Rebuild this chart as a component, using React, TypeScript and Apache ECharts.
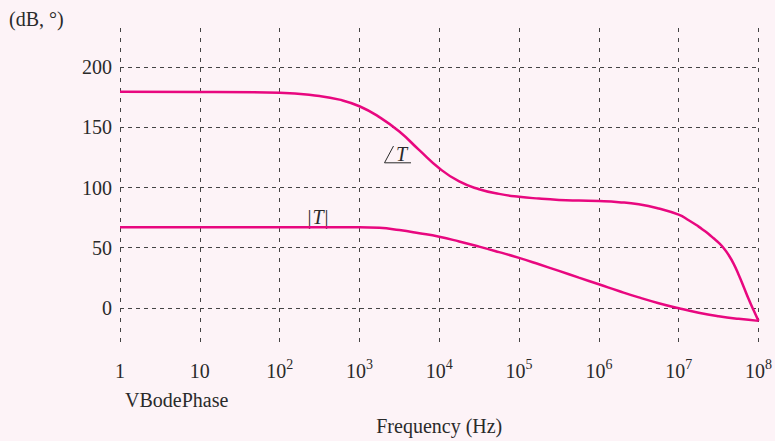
import React, { useEffect, useRef } from "react";
import * as echarts from "echarts";

const FONT = "'Liberation Serif', 'Times New Roman', serif";
const LINE_COLOR = "#e8077f";
const GRID_COLOR = "#444444";
const TEXT_COLOR = "#2a2a2a";

// Frequency ticks (Hz)
const freqTicks = [1, 10, 100, 1e3, 1e4, 1e5, 1e6, 1e7, 1e8];
// Y ticks (dB, degrees)
const yTicks = [0, 50, 100, 150, 200];

// Phase curve  ∠T
const freqPhase = [1, 10, 100, 316, 562, 1000, 1778, 3162, 5623, 1e4, 1.778e4, 3.162e4, 5.623e4, 1e5, 1.778e5, 3.162e5, 5.623e5, 1e6, 1.778e6, 3.162e6, 5.623e6, 1e7, 1.334e7, 1.778e7, 2.054e7, 2.371e7, 2.738e7, 3.162e7, 3.652e7, 4.217e7, 4.870e7, 5.623e7, 6.494e7, 7.499e7, 8.660e7, 1e8];
const phaseDeg = [179.5, 179.4, 178.7, 176, 173, 167.5, 158.5, 146.5, 131, 116, 105, 98.6, 94.7, 92.3, 90.8, 89.7, 89.1, 88.7, 87.8, 86, 82.5, 77.4, 72.8, 67.5, 64.5, 61.3, 57.8, 54.2, 49.7, 44, 36.8, 27.8, 17.8, 7.6, -1.8, -10.8];

// Magnitude curve |T|
const freqMag = [1, 10, 100, 316, 562, 1000, 1778, 3162, 5623, 1e4, 1.778e4, 3.162e4, 5.623e4, 1e5, 1.778e5, 3.162e5, 5.623e5, 1e6, 1.778e6, 3.162e6, 5.623e6, 1e7, 1.778e7, 3.162e7, 5.623e7, 1e8];
const magDb = [67, 67, 67, 67, 67, 67, 66.5, 64.6, 62, 59.1, 55.2, 50.9, 46.3, 41.5, 36.2, 30.7, 25.1, 19.6, 14, 8.7, 3.9, -0.3, -4, -6.9, -9.1, -10.8];

export default function App() {
  const ref = useRef<HTMLDivElement>(null);

  useEffect(() => {
    if (!ref.current) return;
    const chart = echarts.init(ref.current, null, { renderer: "svg" });
    const phaseData = freqPhase.map((f, i) => [f, phaseDeg[i]]);
    const magData = freqMag.map((f, i) => [f, magDb[i]]);

    chart.setOption({
      animation: false,
      backgroundColor: "#fdf3f7",
      textStyle: { fontFamily: FONT, color: TEXT_COLOR },
      grid: { left: 120, right: 15, top: 28, bottom: 89, containLabel: false },
      xAxis: {
        type: "log",
        logBase: 10,
        min: 1,
        max: 1e8,
        name: "Frequency (Hz)",
        nameLocation: "middle",
        nameGap: 69,
        nameTextStyle: { fontFamily: FONT, fontSize: 20, color: TEXT_COLOR },
        axisLine: { show: false },
        axisTick: { show: false, customValues: freqTicks },
        axisLabel: {
          customValues: freqTicks,
          margin: 10,
          color: TEXT_COLOR,
          formatter: (v: number) => {
            const e = Math.round(Math.log10(v));
            if (e === 0) return "{b|1}";
            if (e === 1) return "{b|10}";
            return "{b|10}{s|" + e + "}";
          },
          rich: {
            b: { fontFamily: FONT, fontSize: 20, color: TEXT_COLOR, lineHeight: 24, verticalAlign: "bottom" },
            s: { fontFamily: FONT, fontSize: 14, color: TEXT_COLOR, lineHeight: 14, verticalAlign: "top" },
          },
        },
        splitLine: { show: true, lineStyle: { color: GRID_COLOR, width: 1, type: [4, 6] } },
      },
      yAxis: {
        type: "value",
        min: -32.5,
        max: 232.5,
        axisLine: { show: false },
        axisTick: { show: false, customValues: yTicks },
        axisLabel: {
          customValues: yTicks,
          margin: 8,
          fontFamily: FONT,
          fontSize: 20,
          color: TEXT_COLOR,
        },
        splitLine: { show: true, lineStyle: { color: GRID_COLOR, width: 1, type: [4, 4] } },
      },
      series: [
        {
          type: "line",
          name: "phase",
          data: phaseData,
          smooth: 0.5,
          showSymbol: false,
          lineStyle: { color: LINE_COLOR, width: 2.5 },
        },
        {
          type: "line",
          name: "mag",
          data: magData,
          smooth: 0.5,
          showSymbol: false,
          lineStyle: { color: LINE_COLOR, width: 2.5 },
        },
      ],
      graphic: [
        {
          type: "text",
          left: 9,
          top: 9,
          style: { text: "(dB, °)", fontFamily: FONT, fontSize: 20, fill: TEXT_COLOR },
        },
        {
          type: "text",
          left: 125,
          top: 390,
          style: { text: "VBodePhase", fontFamily: FONT, fontSize: 20, fill: TEXT_COLOR },
        },
        {
          type: "text",
          x: 318,
          y: 217,
          style: {
            text: "{r||}{i|T}{r||}",
            align: "center",
            verticalAlign: "middle",
            rich: {
              r: { fontFamily: FONT, fontSize: 20, fill: TEXT_COLOR, padding: [0, 1, 0, 1] },
              i: { fontFamily: FONT, fontSize: 20, fontStyle: "italic", fill: TEXT_COLOR },
            },
          },
        },
        {
          type: "polyline",
          shape: { points: [[393.5, 146], [384.5, 162.8], [411, 162.8]] },
          style: { stroke: TEXT_COLOR, lineWidth: 1, fill: null },
        },
        {
          type: "text",
          x: 401.5,
          y: 153.5,
          style: {
            text: "T",
            fontFamily: FONT,
            fontSize: 20,
            fontStyle: "italic",
            fill: TEXT_COLOR,
            align: "center",
            verticalAlign: "middle",
          },
        },
      ],
    });

    return () => chart.dispose();
  }, []);

  return (
    <div
      ref={ref}
      style={{ position: "absolute", left: 0, top: 0, width: 775, height: 441 }}
    />
  );
}
